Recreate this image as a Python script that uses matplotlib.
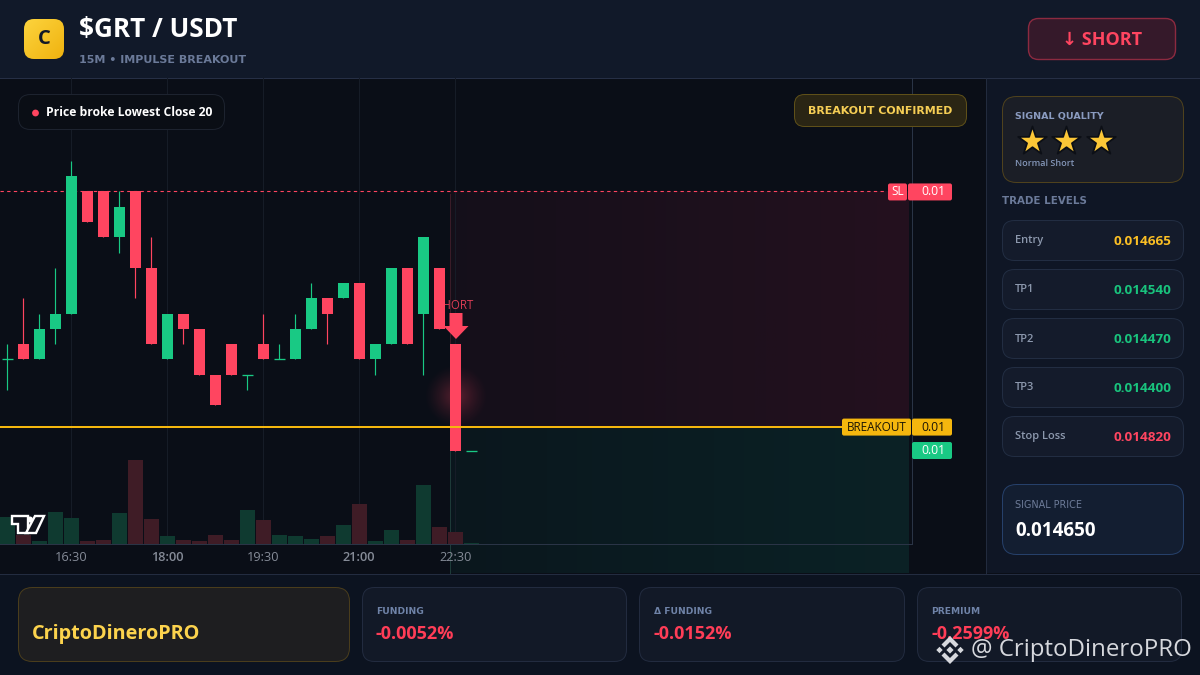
import numpy as np
import matplotlib
matplotlib.use("Agg")
import matplotlib.pyplot as plt
from matplotlib.patches import FancyBboxPatch, Rectangle, Polygon, Circle

plt.rcParams['font.family'] = ['Open Sans', 'DejaVu Sans']

# candles, 15 minute bars
opens = [0.01471, 0.01472, 0.01471, 0.01473, 0.01474, 0.01482, 0.01482, 0.01479, 0.01482, 0.01477,
         0.01471, 0.01474, 0.01473, 0.01470, 0.01472, 0.01470, 0.01472, 0.01471, 0.01471, 0.01473,
         0.01475, 0.01475, 0.01476, 0.01471, 0.01472, 0.01477, 0.01474, 0.01477, 0.01472, 0.01465]
closes = [0.01471, 0.01471, 0.01473, 0.01474, 0.01483, 0.01480, 0.01479, 0.01481, 0.01477, 0.01472,
          0.01474, 0.01473, 0.01470, 0.01468, 0.01470, 0.01470, 0.01471, 0.01471, 0.01473, 0.01475,
          0.01474, 0.01476, 0.01471, 0.01472, 0.01477, 0.01472, 0.01479, 0.01473, 0.01465, 0.01465]
highs = [0.01472, 0.01475, 0.01474, 0.01477, 0.01484, 0.01482, 0.01482, 0.01482, 0.01482, 0.01479,
         0.01474, 0.01474, 0.01473, 0.01470, 0.01472, 0.01470, 0.01474, 0.01472, 0.01474, 0.01476,
         0.01475, 0.01476, 0.01476, 0.01472, 0.01477, 0.01477, 0.01479, 0.01477, 0.01472, 0.01465]
lows = [0.01469, 0.01471, 0.01471, 0.01472, 0.01474, 0.01480, 0.01479, 0.01478, 0.01475, 0.01472,
        0.01471, 0.01472, 0.01470, 0.01468, 0.01470, 0.01469, 0.01471, 0.01471, 0.01471, 0.01473,
        0.01472, 0.01475, 0.01471, 0.01470, 0.01472, 0.01472, 0.01470, 0.01473, 0.01465, 0.01465]
volumes = [27, 9, 3, 32, 26, 3, 4, 31, 84, 25, 8, 4, 3, 9, 4, 34, 24, 9, 8, 5, 8, 19, 40, 3, 14, 4, 59, 17, 12, 1]
rising = [True, False, True, True, True, False, False, True, False, False,
          True, False, False, False, False, True, False, True, True, True,
          False, True, False, True, True, False, True, False, False, True]

time_ticks = [4, 10, 16, 22, 28]
time_labels = ['16:30', '18:00', '19:30', '21:00', '22:30']
bold_labels = ['18:00', '21:00']

sl_price = 0.01482
breakout_price = 0.014666
tp_price = 0.01465
marker_price = 0.0147456

level_names = ['Entry', 'TP1', 'TP2', 'TP3', 'Stop Loss']
level_values = ['0.014665', '0.014540', '0.014470', '0.014400', '0.014820']
level_colors = ['#fbbf24', '#19c37d', '#19c37d', '#19c37d', '#ff4560']
stat_names = ['FUNDING', 'Δ FUNDING', 'PREMIUM']
stat_values = ['-0.0052%', '-0.0152%', '-0.2599%']

RED = '#ff4560'
GREEN = '#19c984'
YELLOW = '#f5b70e'
WIDE = ['DejaVu Sans']


def box(ax, x0, y0, x1, y1, r, fc, ec, lw=0.72, z=2):
    p = FancyBboxPatch((x0, y0), x1 - x0, y1 - y0, boxstyle=f"round,pad=0,rounding_size={r}",
                       fc=fc, ec=ec, lw=lw, zorder=z)
    ax.add_patch(p)
    return p


def full_axes(fig, z):
    ax = fig.add_axes([0, 0, 1, 1], zorder=z)
    ax.set_xlim(0, 1200)
    ax.set_ylim(675, 0)
    ax.axis('off')
    return ax


fig = plt.figure(figsize=(12, 6.75), dpi=100, facecolor='#0a0e17')

# background layer: panels and the trade zones
bg = full_axes(fig, 0)
bg.add_patch(Rectangle((0, 0), 1200, 77.5, fc='#111929', ec='none'))
bg.plot([0, 1200], [77.5, 77.5], color='#262f45', lw=0.72)
bg.add_patch(Rectangle((985.5, 78), 215, 495, fc='#0f1625', ec='none'))
bg.plot([985.5, 985.5], [78, 573], color='#222b3e', lw=0.72)
bg.add_patch(Rectangle((0, 573.5), 1200, 102, fc='#0c1320', ec='none'))
bg.plot([0, 1200], [573.5, 573.5], color='#232c40', lw=0.72)

# chart, one index step is 16 px and one 0.00001 price step is about 15.27 px
ax = fig.add_axes([0, (675 - 544) / 675, 912 / 1200, (544 - 78) / 675], zorder=1)
ax.set_facecolor('none')
ax.set_xlim(-0.45, 56.55)
ax.set_ylim(0.01465 - 6.09e-5, 0.01465 + 24.43e-5)
for s in ['top', 'left']:
    ax.spines[s].set_visible(False)
for s in ['right', 'bottom']:
    ax.spines[s].set_color('#2a3446')
    ax.spines[s].set_linewidth(0.72)
ax.set_yticks([])
ax.set_xticks(time_ticks)
ax.set_xticklabels(time_labels, color='#858b97', fontsize=9.2)
for t in ax.get_xticklabels():
    if t.get_text() in bold_labels:
        t.set_fontweight('semibold')
ax.tick_params(axis='x', length=0, pad=5)
ax.grid(axis='x', color='#161c27', lw=0.72)
ax.set_axisbelow(True)


def price_y(p):
    # pixel row of a price, for the layers drawn in pixels
    return bg.transData.inverted().transform(ax.transData.transform((0, p)))[1]


sl_y = price_y(sl_price)
br_y = price_y(breakout_price)

# zones get stronger towards the right
for col, y0, y1, amax, start in [((0.42, 0.10, 0.20), sl_y, br_y, 0.27, 0.4), ((0.06, 0.42, 0.36), br_y, 573, 0.215, 0.45)]:
    img = np.zeros((1, 256, 4))
    img[..., :3] = col
    img[..., 3] = np.linspace(start, 1, 256) * amax
    bg.imshow(img, extent=(450, 909, y1, y0), aspect='auto', zorder=1)
bg.plot([449.5, 449.5], [sl_y + 3, br_y], color='#3a1c28', lw=0.72, zorder=2)
bg.plot([449.5, 449.5], [br_y, 573], color='#1d3a38', lw=0.72, zorder=2)

# glow behind the breakout candle
gx, gy = np.meshgrid(np.linspace(-1, 1, 120), np.linspace(-1, 1, 120))
rad = np.sqrt(gx ** 2 + gy ** 2)
glow = np.zeros((120, 120, 4))
glow[..., :3] = (1.0, 0.27, 0.38)
glow[..., 3] = np.clip(1 - rad, 0, 1) ** 1.4 * 0.32
bg.imshow(glow, extent=(423, 489, 429, 363), aspect='auto', zorder=3)
bg.set_xlim(0, 1200)
bg.set_ylim(675, 0)

# volume on its own scale, one unit per pixel
vol_ax = ax.twinx()
vol_ax.set_ylim(0, 466)
vol_ax.set_yticks([])
for s in vol_ax.spines.values():
    s.set_visible(False)
x = np.arange(len(opens))
vol_colors = ['#0f3a30' if r else '#3f1c26' for r in rising]
vol_ax.bar(x, volumes, width=0.94, color=vol_colors, linewidth=0, zorder=1)

# levels
sl_line = ax.axhline(sl_price, xmax=885 / 912, color=RED, lw=0.8, ls=(0, (3, 3)), zorder=2)
sl_line.set_snap(True)

# SHORT marker sits under the previous candle, so its S is hidden
ax.text(28, marker_price, 'SHORT', color=RED, fontsize=8.3, ha='center', va='center', alpha=0.85, zorder=3)

# candles
colors = [GREEN if r else RED for r in rising]
body_low = np.minimum(opens, closes)
body_high = np.maximum(opens, closes)
wicks = ax.vlines(x, lows, highs, colors=colors, lw=0.85, zorder=4)
wicks.set_snap(True)
ax.bar(x, body_high - body_low, bottom=body_low, width=0.69, color=colors, linewidth=0, zorder=5)
flat = body_high == body_low
dojis = ax.hlines(body_low[flat], x[flat] - 0.35, x[flat] + 0.35, colors=np.array(colors)[flat], lw=0.95, zorder=5)
dojis.set_snap(True)

# top layer
ui = full_axes(fig, 3)

ui.plot([0, 842], [br_y, br_y], color=YELLOW, lw=1.45, zorder=1)

# arrow of the SHORT marker
ui.add_patch(Polygon([(449.5, 313), (462.5, 313), (462.5, 326), (468.5, 326), (456, 339), (443.5, 326), (449.5, 326)],
                     fc=RED, ec='none', zorder=2))

# price tags
box(ui, 888, sl_y - 8, 907, sl_y + 9, 2, RED, 'none')
box(ui, 908, sl_y - 8, 952, sl_y + 9, 2, RED, 'none')
ui.text(898, sl_y + 0.5, 'SL', color='white', fontsize=8.5, ha='center', va='center', zorder=3)
ui.text(933, sl_y + 0.5, '0.01', color='white', fontsize=8.7, ha='center', va='center', zorder=3)
box(ui, 842, br_y - 8, 911, br_y + 9, 2, YELLOW, 'none')
box(ui, 912, br_y - 8, 952, br_y + 9, 2, YELLOW, 'none')
ui.text(876.5, br_y + 0.5, 'BREAKOUT', color='#1a1405', fontsize=8.5, ha='center', va='center', zorder=3)
ui.text(933, br_y + 0.5, '0.01', color='#1a1405', fontsize=8.7, ha='center', va='center', zorder=3)
tp_y = price_y(tp_price)
box(ui, 912, tp_y - 9, 952, tp_y + 8, 2, GREEN, 'none')
ui.text(933, tp_y - 0.5, '0.01', color='white', fontsize=8.7, ha='center', va='center', zorder=3)

# TradingView mark
ui.add_patch(Polygon([(11.5, 516), (28, 516), (28, 533), (17.5, 533), (17.5, 523.5), (11.5, 523.5)],
                     fc='#10131c', ec='white', lw=1.7, zorder=3))
ui.add_patch(Polygon([(35, 516), (44, 516), (36, 533), (26, 533)], fc='#10131c', ec='white', lw=1.7, zorder=3))
ui.add_patch(Circle((30, 519.5), 3, fc='white', ec='none', zorder=4))

# header
icon = np.linspace(0, 1, 64)
ig = np.zeros((64, 64, 3))
ig[..., 0] = 0.99 - 0.05 * (icon[None, :] + icon[:, None]) / 2
ig[..., 1] = 0.83 - 0.13 * (icon[None, :] + icon[:, None]) / 2
ig[..., 2] = 0.24 - 0.18 * (icon[None, :] + icon[:, None]) / 2
im = ui.imshow(ig, extent=(24, 64, 59, 19), aspect='auto', zorder=2)
im.set_clip_path(box(ui, 24, 19, 64, 59, 10, 'none', 'none'))
ui.set_xlim(0, 1200)
ui.set_ylim(675, 0)
ui.text(44, 39.5, 'C', color='#111827', fontsize=14.5, fontweight='bold', ha='center', va='center', zorder=3)
ui.text(79, 29.5, '$GRT / USDT', color='white', fontsize=18.8, fontweight='bold', va='center')
ui.text(79, 60, '15M • IMPULSE BREAKOUT', color='#6b7a99', fontsize=8.0, fontweight='bold', family=WIDE, va='center')
box(ui, 1028.5, 18.5, 1175.5, 59.5, 10, '#35192a', '#8c2a40', lw=1)
ui.text(1102, 40, '↓ SHORT', color=RED, fontsize=13, fontweight='bold', ha='center', va='center', zorder=3)

# chart badges
box(ui, 18.5, 94.5, 224.5, 129.5, 12, '#0a0e15', '#1d232f')
ui.add_patch(Circle((35.5, 113), 3.4, fc=RED, ec='none', zorder=3))
ui.text(46, 112.5, 'Price broke Lowest Close 20', color='white', fontsize=8.7, fontweight='bold', va='center', zorder=3)
box(ui, 794.5, 94.5, 966.5, 126.5, 10, '#2a2514', '#5f5019')
ui.text(880.5, 110.5, 'BREAKOUT CONFIRMED', color='#f6ce55', fontsize=7.9, fontweight='bold', family=WIDE,
        ha='center', va='center', zorder=3)

# signal quality
box(ui, 1002.5, 96.5, 1183.5, 182.5, 14, '#1b1e26', '#4f421d')
ui.text(1015, 116.5, 'SIGNAL QUALITY', color='#8a9bc0', fontsize=6.8, fontweight='bold', family=WIDE, va='center', zorder=3)
ui.scatter([1032, 1066, 1101], [141, 141, 141], marker='*', s=470, c='#fcc737', edgecolors='#0c0f16', linewidths=1.3, zorder=3)
ui.text(1015, 164, 'Normal Short', color='#8496b8', fontsize=6.5, fontweight='semibold', va='center', zorder=3)
ui.text(1002.5, 200.5, 'TRADE LEVELS', color='#6b7a99', fontsize=7.4, fontweight='bold', family=WIDE, va='center', zorder=3)

# trade level cards
for i, (name, val, col) in enumerate(zip(level_names, level_values, level_colors)):
    top = 220.5 + i * 49
    box(ui, 1002.5, top, 1183.5, top + 40, 12, '#141b2b', '#222d42')
    ui.text(1015, top + 20.5, name, color='#8c98ad', fontsize=8, fontweight='semibold', va='center', zorder=3)
    ui.text(1171, top + 21, val, color=col, fontsize=9.7, fontweight='bold', ha='right', va='center', zorder=3)

box(ui, 1002.5, 484.5, 1183.5, 554.5, 14, '#131e31', '#26406a')
ui.text(1015, 505.5, 'SIGNAL PRICE', color='#6e7c99', fontsize=6.9, family=WIDE, va='center', zorder=3)
ui.text(1015, 530.5, '0.014650', color='white', fontsize=13.6, fontweight='bold', va='center', zorder=3)

# bottom cards
box(ui, 18.5, 587.5, 349.5, 661.5, 14, '#1e1e20', '#4a3d1c')
ui.text(32, 634.5, 'CriptoDineroPRO', color='#fcd34d', fontsize=14.3, fontweight='bold', va='center', zorder=3)
for (x0, x1, tx), name, val in zip([(362.5, 626.5, 376), (639.5, 904.5, 654), (917.5, 1181.5, 931)], stat_names, stat_values):
    box(ui, x0, 587.5, x1, 661.5, 12, '#121927', '#222b3f')
    ui.text(tx, 611.5, name, color='#6f83a8', fontsize=6.6, fontweight='bold', family=WIDE, va='center', zorder=3)
    ui.text(tx, 634, val, color='#ff3d57', fontsize=13, fontweight='bold', va='center', zorder=3)

# watermark
wm = '#d6d8dd'
ui.add_patch(Polygon([(950, 636), (958.5, 644.5), (955.5, 647.5), (950, 642), (944.5, 647.5), (941.5, 644.5)], fc=wm, ec='none', zorder=5))
ui.add_patch(Polygon([(950, 664), (958.5, 655.5), (955.5, 652.5), (950, 658), (944.5, 652.5), (941.5, 655.5)], fc=wm, ec='none', zorder=5))
for cx, rr in [(950, 3.6), (939.5, 3.2), (960.5, 3.2)]:
    ui.add_patch(Polygon([(cx - rr, 650), (cx, 650 - rr), (cx + rr, 650), (cx, 650 + rr)], fc=wm, ec='none', zorder=5))
ui.text(971, 649.5, '@ CriptoDineroPRO', color=wm, fontsize=17.3, va='center', zorder=5)

fig.savefig('out.png', dpi=100, facecolor=fig.get_facecolor())
